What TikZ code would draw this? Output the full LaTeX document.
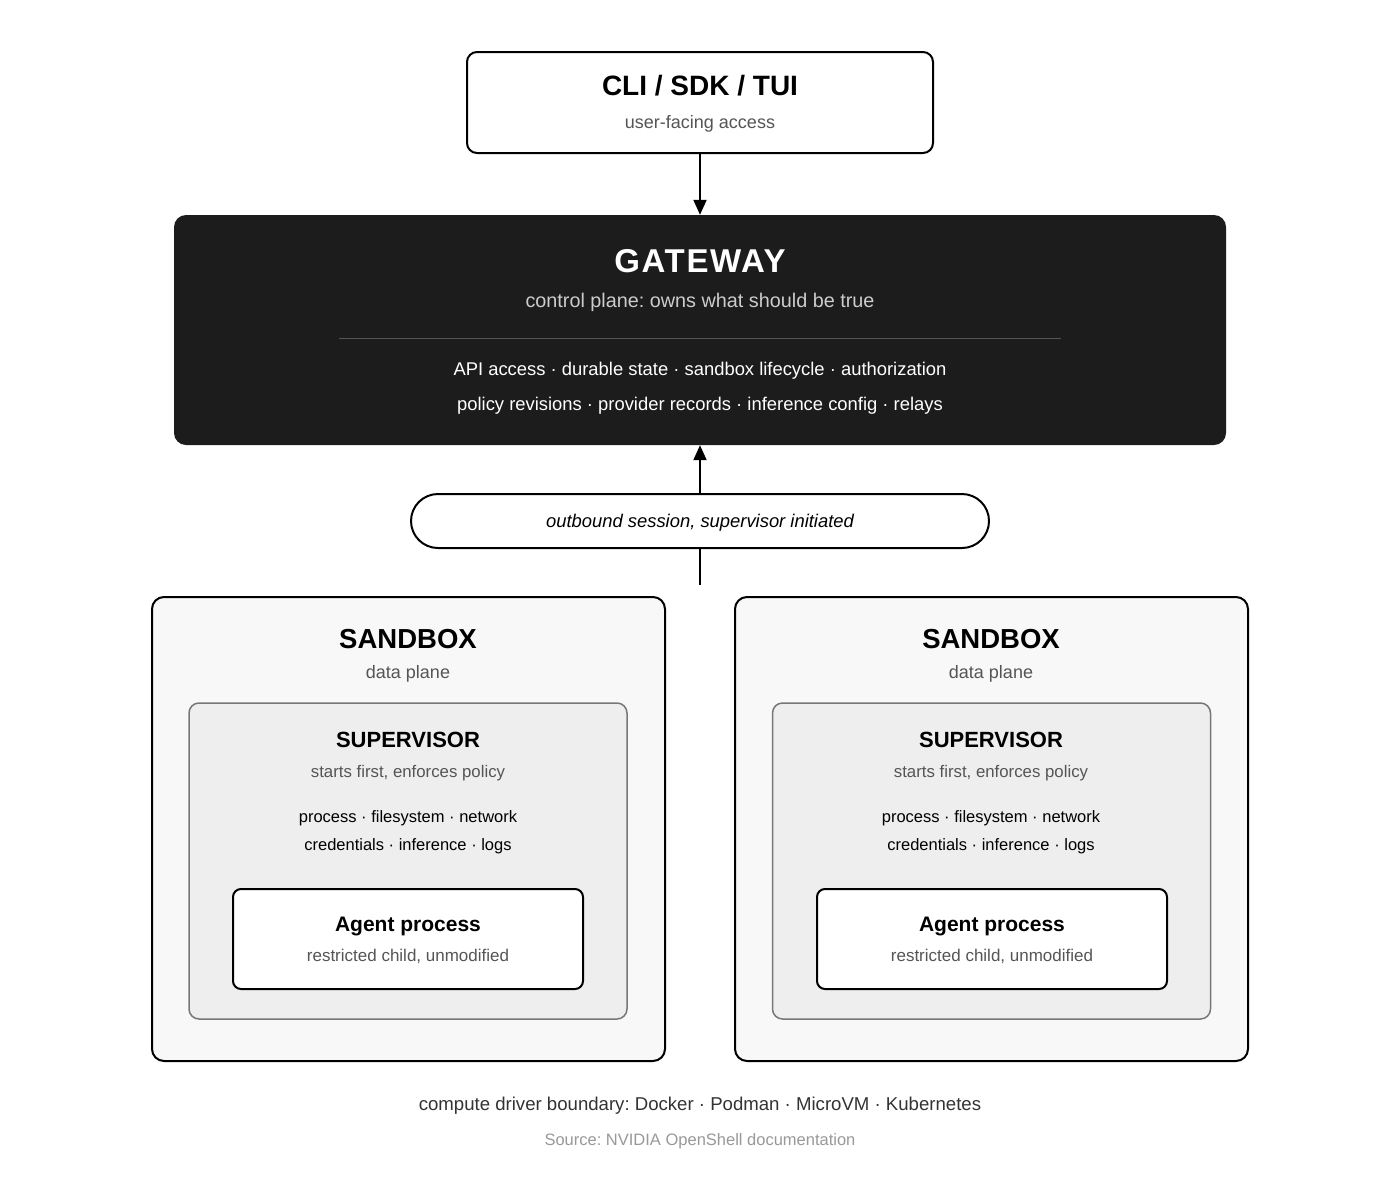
\documentclass[tikz,border=0pt]{standalone}
\usepackage{fontspec}
\setmainfont{Liberation Sans}
\newfontfamily\gwfont[LetterSpace=5]{Liberation Sans}
\usetikzlibrary{arrows.meta, positioning}
\definecolor{gwdark}{RGB}{28, 28, 28}
\definecolor{gwsub}{RGB}{204, 204, 204}
\definecolor{gwrule}{RGB}{85, 85, 85}
\definecolor{sbfill}{RGB}{248, 248, 248}
\definecolor{supfill}{RGB}{238, 238, 238}
\definecolor{supline}{RGB}{119, 119, 119}
\definecolor{subgray}{RGB}{85, 85, 85}
\definecolor{footgray}{RGB}{51, 51, 51}
\definecolor{srcgray}{RGB}{153, 153, 153}
\frenchspacing
\tikzset{
  lbl/.style={anchor=base, inner sep=0pt},
  cardbox/.style={draw=black, line width=2pt, rounded corners=10pt, fill=white, inner sep=0pt},
  flow/.style={line width=2pt, -{Triangle[length=15pt, width=13pt]}}
}

\begin{document}
\begin{tikzpicture}[x=1pt, y=-1pt]
  \useasboundingbox[fill=white] (0, 0) rectangle (1400, 1178);

  % CLI / SDK / TUI
  \node[cardbox, minimum width=466pt, minimum height=101pt] (cli) at (700, 102.5) {};
  \node[lbl, font=\bfseries\fontsize{28}{34}\selectfont] (clititle) at (700, 95) {CLI / SDK / TUI};
  \node[lbl, font=\fontsize{18}{22}\selectfont, text=subgray] (clisub) at (700, 128) {user-facing access};

  % Gateway
  \node[fill=gwdark, rounded corners=12pt, minimum width=1052pt, minimum height=230pt, inner sep=0pt] (gw) at (700, 330) {};
  \node[lbl, font=\gwfont\bfseries\fontsize{33}{40}\selectfont, text=white] (gwtitle) at (700, 272) {GATEWAY};
  \node[lbl, font=\fontsize{19.8}{24}\selectfont, text=gwsub] (gwsub) at (700, 307) {control plane: owns what should be true};
  \draw[gwrule, line width=1pt] (339, 338) -- (1061, 338);
  \node[lbl, font=\fontsize{18.4}{23}\selectfont, text=white] (gwline1) at (700, 375) {API access · durable state · sandbox lifecycle · authorization};
  \node[lbl, font=\fontsize{18.4}{23}\selectfont, text=white] (gwline2) at (700, 410) {policy revisions · provider records · inference config · relays};

  \draw[flow] (cli.south) -- (gw.north);

  % Session
  \node[cardbox, rounded corners=27pt, minimum width=578pt, minimum height=54pt] (session) at (700, 521) {};
  \node[lbl, font=\itshape\fontsize{18.4}{22}\selectfont] (sessiontext) at (700, 527) {outbound session, supervisor initiated};
  \coordinate (sessionfoot) at (700, 585);
  \draw[flow] (session.north) -- (gw.south);
  \draw[line width=2pt] (session.south) -- (sessionfoot);

  % Sandbox 1
  \node[cardbox, fill=sbfill, rounded corners=12pt, minimum width=513pt, minimum height=464pt] (sb1) at (408.5, 829) {};
  \node[lbl, font=\bfseries\fontsize{27.5}{32}\selectfont] (sb1title) at (408, 648) {SANDBOX};
  \node[lbl, font=\fontsize{18}{22}\selectfont, text=subgray] (sb1sub) at (408, 678) {data plane};
  \node[draw=supline, line width=1.5pt, fill=supfill, rounded corners=10pt, minimum width=438pt, minimum height=316pt, inner sep=0pt] (sup1) at (408, 861) {};
  \node[lbl, font=\bfseries\fontsize{22}{26}\selectfont] (sup1title) at (408, 747) {SUPERVISOR};
  \node[lbl, font=\fontsize{16.8}{20}\selectfont, text=subgray] (sup1sub) at (408, 777) {starts first, enforces policy};
  \node[lbl, font=\fontsize{16.5}{20}\selectfont] (sup1line1) at (408, 822) {process · filesystem · network};
  \node[lbl, font=\fontsize{16.5}{20}\selectfont] (sup1line2) at (408, 850) {credentials · inference · logs};
  \node[cardbox, rounded corners=8pt, minimum width=350pt, minimum height=100pt] (agent1) at (408, 939) {};
  \node[lbl, font=\bfseries\fontsize{21}{25}\selectfont] (agent1title) at (408, 931) {Agent process};
  \node[lbl, font=\fontsize{17}{20}\selectfont, text=subgray] (agent1sub) at (408, 961) {restricted child, unmodified};

  % Sandbox 2
  \node[cardbox, fill=sbfill, rounded corners=12pt, minimum width=513pt, minimum height=464pt] (sb2) at (991.5, 829) {};
  \node[lbl, font=\bfseries\fontsize{27.5}{32}\selectfont] (sb2title) at (991, 648) {SANDBOX};
  \node[lbl, font=\fontsize{18}{22}\selectfont, text=subgray] (sb2sub) at (991, 678) {data plane};
  \node[draw=supline, line width=1.5pt, fill=supfill, rounded corners=10pt, minimum width=438pt, minimum height=316pt, inner sep=0pt] (sup2) at (991.5, 861) {};
  \node[lbl, font=\bfseries\fontsize{22}{26}\selectfont] (sup2title) at (991, 747) {SUPERVISOR};
  \node[lbl, font=\fontsize{16.8}{20}\selectfont, text=subgray] (sup2sub) at (991, 777) {starts first, enforces policy};
  \node[lbl, font=\fontsize{16.5}{20}\selectfont] (sup2line1) at (991, 822) {process · filesystem · network};
  \node[lbl, font=\fontsize{16.5}{20}\selectfont] (sup2line2) at (991, 850) {credentials · inference · logs};
  \node[cardbox, rounded corners=8pt, minimum width=350pt, minimum height=100pt] (agent2) at (992, 939) {};
  \node[lbl, font=\bfseries\fontsize{21}{25}\selectfont] (agent2title) at (992, 931) {Agent process};
  \node[lbl, font=\fontsize{17}{20}\selectfont, text=subgray] (agent2sub) at (992, 961) {restricted child, unmodified};

  % Footer
  \node[lbl, font=\fontsize{18.6}{22}\selectfont, text=footgray] (driver) at (700, 1110) {compute driver boundary: Docker · Podman · MicroVM · Kubernetes};
  \node[lbl, font=\fontsize{16.5}{18}\selectfont, text=srcgray] (source) at (700, 1145) {Source: NVIDIA OpenShell documentation};
\end{tikzpicture}
\end{document}
